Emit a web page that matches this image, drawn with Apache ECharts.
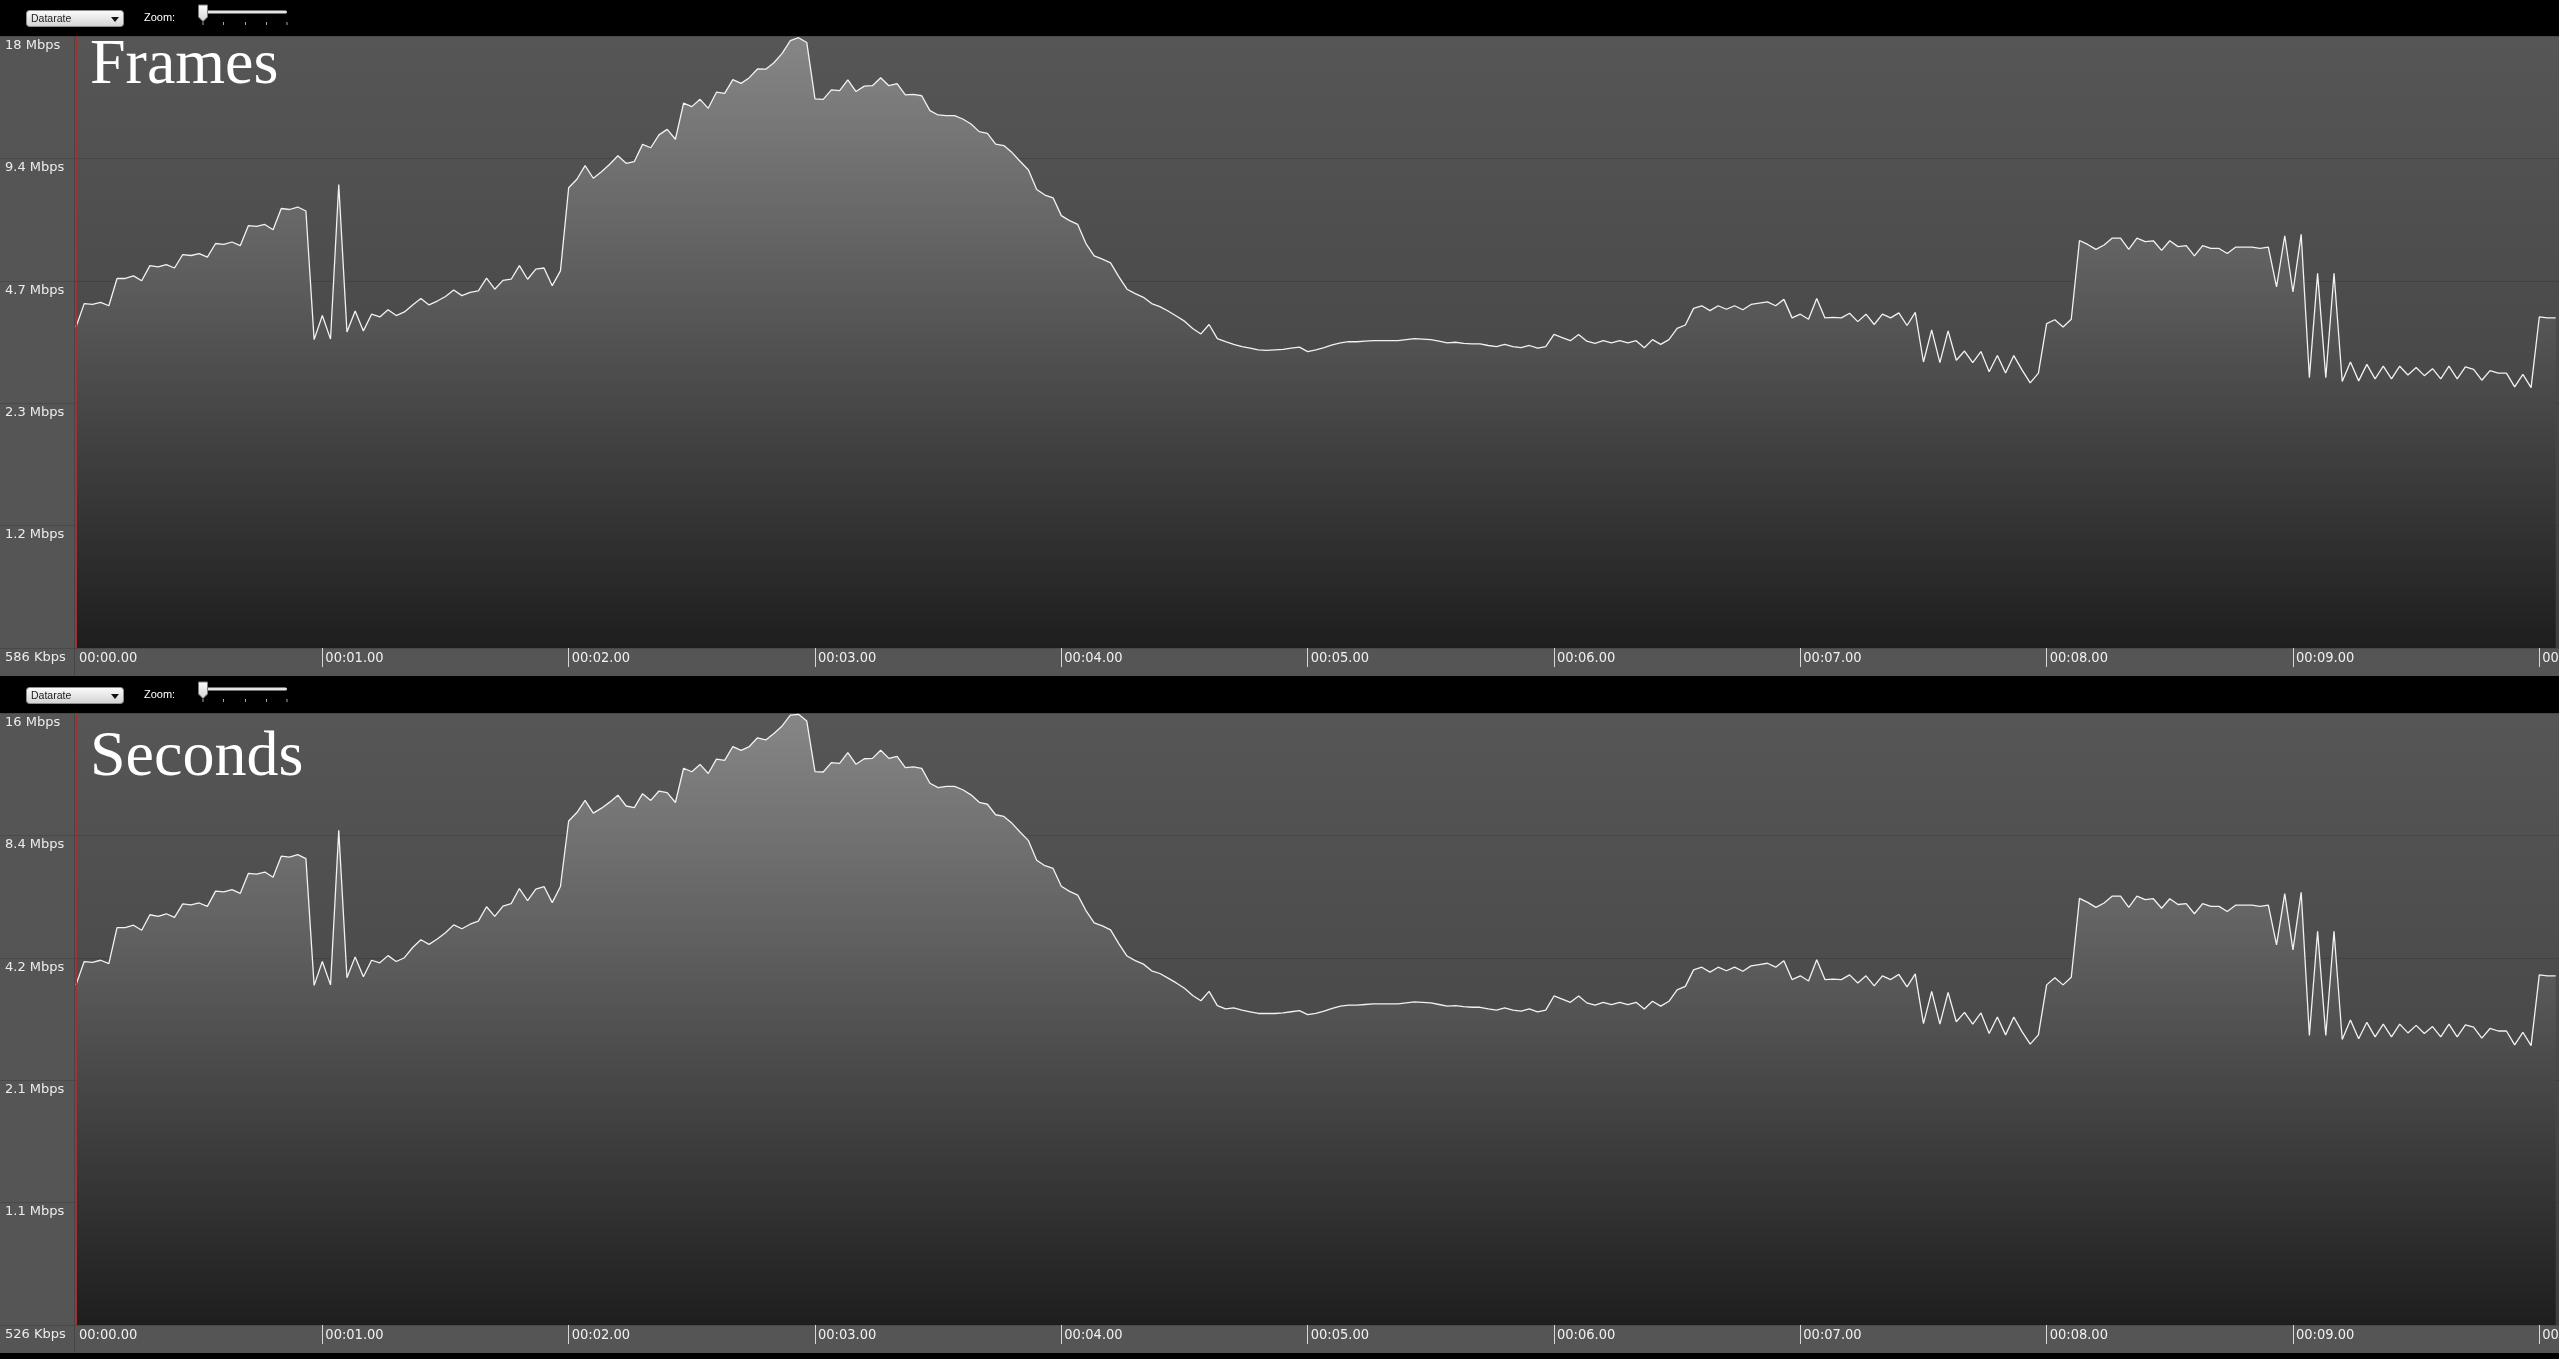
<!DOCTYPE html>
<html>
<head>
<meta charset="utf-8">
<script src="https://cdn.jsdelivr.net/npm/echarts@6/dist/echarts.min.js"></script>
<style>
html,body{margin:0;padding:0;background:#000;overflow:hidden;}
#chart{width:2559px;height:1359px;}
</style>
</head>
<body>
<div id="chart"></div>
<script>
// ---------------- data ----------------
const frameDuration = 1 / 30;               // seconds per sample (30 samples per second)
const timeLabelSeconds = [0, 1, 2, 3, 4, 5, 6, 7, 8, 9, 10];
const timeTickSeconds = [1, 2, 3, 4, 5, 6, 7, 8, 9, 10];

const framesLevelLabels = ['586 Kbps', '1.2 Mbps', '2.3 Mbps', '4.7 Mbps', '9.4 Mbps', '18 Mbps'];
const framesRange = [0.586, 18.752];        // Mbps, bottom and top of the log axis
const secondsLevelLabels = ['526 Kbps', '1.1 Mbps', '2.1 Mbps', '4.2 Mbps', '8.4 Mbps', '16 Mbps'];
const secondsRange = [0.526, 16.832];

// Datarate in Mbps, one value per frame (top panel "Frames")
const framesMbps = [
  3.61, 4.12, 4.10, 4.15, 4.07, 4.75, 4.75, 4.82, 4.69, 5.11,
  5.07, 5.14, 5.04, 5.44, 5.41, 5.47, 5.36, 5.79, 5.76, 5.84,
  5.72, 6.41, 6.38, 6.45, 6.26, 7.06, 7.02, 7.12, 6.96, 3.36,
  3.85, 3.37, 8.09, 3.51, 3.95, 3.53, 3.88, 3.82, 3.98, 3.85,
  3.93, 4.09, 4.24, 4.09, 4.18, 4.29, 4.45, 4.31, 4.39, 4.43,
  4.76, 4.47, 4.70, 4.73, 5.11, 4.73, 5.01, 5.04, 4.56, 4.96,
  7.94, 8.33, 9.00, 8.38, 8.69, 9.07, 9.52, 9.12, 9.21, 10.15,
  9.96, 10.71, 11.05, 10.45, 12.82, 12.57, 13.10, 12.45, 13.64, 13.55,
  14.65, 14.34, 14.81, 15.56, 15.54, 16.12, 17.00, 18.27, 18.57, 18.07,
  13.13, 13.10, 13.82, 13.76, 14.62, 13.69, 14.12, 14.15, 14.81, 14.15,
  14.31, 13.43, 13.48, 13.37, 12.29, 11.99, 11.95, 11.95, 11.72, 11.39,
  10.91, 10.80, 10.17, 10.08, 9.69, 9.21, 8.78, 7.86, 7.62, 7.50,
  6.78, 6.59, 6.45, 5.79, 5.40, 5.30, 5.19, 4.80, 4.47, 4.36,
  4.27, 4.12, 4.05, 3.95, 3.84, 3.73, 3.58, 3.47, 3.66, 3.38,
  3.32, 3.27, 3.23, 3.20, 3.17, 3.16, 3.17, 3.18, 3.20, 3.22,
  3.14, 3.17, 3.21, 3.26, 3.30, 3.32, 3.32, 3.33, 3.34, 3.34,
  3.34, 3.34, 3.36, 3.38, 3.37, 3.36, 3.33, 3.30, 3.31, 3.29,
  3.28, 3.28, 3.25, 3.23, 3.27, 3.23, 3.21, 3.25, 3.20, 3.23,
  3.46, 3.40, 3.34, 3.46, 3.33, 3.29, 3.34, 3.30, 3.34, 3.30,
  3.34, 3.21, 3.36, 3.27, 3.36, 3.58, 3.65, 4.01, 4.07, 3.96,
  4.07, 3.99, 4.07, 3.98, 4.10, 4.13, 4.16, 4.07, 4.22, 3.80,
  3.88, 3.77, 4.24, 3.80, 3.81, 3.80, 3.90, 3.72, 3.88, 3.66,
  3.88, 3.80, 3.91, 3.64, 3.92, 2.96, 3.55, 2.95, 3.53, 2.99,
  3.15, 2.95, 3.14, 2.80, 3.07, 2.78, 3.07, 2.83, 2.63, 2.78,
  3.68, 3.76, 3.61, 3.77, 5.89, 5.76, 5.60, 5.74, 5.97, 5.97,
  5.60, 5.97, 5.85, 5.88, 5.57, 5.88, 5.69, 5.72, 5.40, 5.72,
  5.63, 5.63, 5.47, 5.67, 5.67, 5.67, 5.63, 5.67, 4.53, 6.05,
  4.40, 6.10, 2.71, 4.89, 2.71, 4.89, 2.65, 2.96, 2.66, 2.92,
  2.69, 2.89, 2.69, 2.89, 2.75, 2.87, 2.74, 2.85, 2.69, 2.89,
  2.69, 2.88, 2.84, 2.67, 2.82, 2.78, 2.78, 2.57, 2.76, 2.56,
  3.82, 3.80, 3.80
];

// Datarate in Mbps, one value per frame (bottom panel "Seconds")
const secondsMbps = [
  3.61, 4.12, 4.10, 4.15, 4.07, 4.99, 4.99, 5.06, 4.92, 5.37,
  5.32, 5.40, 5.29, 5.71, 5.68, 5.74, 5.63, 6.14, 6.11, 6.19,
  6.06, 6.79, 6.76, 6.84, 6.64, 7.48, 7.44, 7.55, 7.38, 3.60,
  4.12, 3.61, 8.66, 3.76, 4.23, 3.78, 4.15, 4.09, 4.26, 4.12,
  4.21, 4.46, 4.66, 4.54, 4.68, 4.85, 5.07, 4.96, 5.09, 5.18,
  5.62, 5.32, 5.64, 5.72, 6.23, 5.82, 6.21, 6.30, 5.75, 6.30,
  9.13, 9.58, 10.26, 9.55, 9.82, 10.16, 10.57, 9.94, 9.85, 10.66,
  10.26, 10.82, 10.72, 10.14, 12.31, 12.07, 12.58, 11.95, 12.96, 12.87,
  13.92, 13.62, 13.92, 14.63, 14.45, 14.99, 15.64, 16.63, 16.71, 16.08,
  12.08, 12.05, 12.71, 12.66, 13.45, 12.59, 12.99, 13.02, 13.63, 13.02,
  13.17, 12.36, 12.40, 12.30, 11.31, 11.03, 11.11, 11.11, 10.90, 10.59,
  10.15, 10.04, 9.46, 9.37, 9.01, 8.57, 8.17, 7.31, 7.09, 6.98,
  6.31, 6.13, 6.00, 5.50, 5.13, 5.04, 4.93, 4.56, 4.25, 4.14,
  4.06, 3.91, 3.85, 3.75, 3.65, 3.54, 3.40, 3.30, 3.48, 3.21,
  3.15, 3.17, 3.13, 3.10, 3.07, 3.07, 3.07, 3.08, 3.10, 3.12,
  3.05, 3.07, 3.11, 3.16, 3.20, 3.22, 3.22, 3.23, 3.24, 3.24,
  3.24, 3.24, 3.26, 3.28, 3.27, 3.26, 3.23, 3.20, 3.21, 3.19,
  3.18, 3.18, 3.15, 3.13, 3.17, 3.13, 3.11, 3.15, 3.10, 3.13,
  3.39, 3.33, 3.27, 3.39, 3.26, 3.22, 3.27, 3.23, 3.27, 3.23,
  3.27, 3.15, 3.29, 3.20, 3.29, 3.51, 3.58, 3.93, 3.99, 3.88,
  3.99, 3.91, 3.99, 3.90, 4.02, 4.05, 4.08, 3.99, 4.14, 3.72,
  3.80, 3.69, 4.16, 3.72, 3.73, 3.72, 3.82, 3.65, 3.80, 3.59,
  3.80, 3.72, 3.83, 3.57, 3.84, 2.90, 3.48, 2.89, 3.46, 2.93,
  3.09, 2.89, 3.08, 2.74, 3.01, 2.72, 3.01, 2.77, 2.58, 2.72,
  3.61, 3.76, 3.61, 3.77, 5.89, 5.76, 5.60, 5.74, 5.97, 5.97,
  5.60, 5.97, 5.85, 5.88, 5.57, 5.88, 5.69, 5.72, 5.40, 5.72,
  5.63, 5.63, 5.47, 5.67, 5.67, 5.67, 5.63, 5.67, 4.53, 6.05,
  4.40, 6.10, 2.71, 4.89, 2.71, 4.89, 2.65, 2.96, 2.66, 2.92,
  2.69, 2.89, 2.69, 2.89, 2.75, 2.87, 2.74, 2.85, 2.69, 2.89,
  2.69, 2.88, 2.84, 2.67, 2.82, 2.78, 2.78, 2.57, 2.76, 2.56,
  3.82, 3.80, 3.80
];

// ---------------- layout / style ----------------
const W = 2559;
const PANEL_OFFSET = 677;
const PLOT_LEFT = 76, PLOT_TOP = 36, PLOT_H = 612, STRIP_H = 28;
const TIME_MAX = 10.08;

const chart = echarts.init(document.getElementById('chart'), null, {renderer: 'canvas', width: 2559, height: 1359});

function fmtTime(v) {
  if (Math.abs(v - Math.round(v)) > 1e-6) return '';
  const s = Math.round(v);
  return '00:' + (s < 10 ? '0' + s : '' + s) + '.00';
}

function toolbar(off) {
  const grey = {type: 'linear', x: 0, y: 0, x2: 0, y2: 1,
    colorStops: [{offset: 0, color: '#fdfdfd'}, {offset: 1, color: '#d2d2d2'}]};
  const els = [
    {type: 'rect', z: 100, silent: true, shape: {x: 26.5, y: 10.5 + off, width: 97, height: 16, r: 3},
      style: {fill: grey, stroke: '#8c8c8c', lineWidth: 1}},
    {type: 'text', z: 101, silent: true,
      style: {x: 31, y: 19 + off, text: 'Datarate', fill: '#1c1c1c', font: '10.5px "Liberation Sans", Arial, sans-serif',
        textVerticalAlign: 'middle', verticalAlign: 'middle'}},
    {type: 'polygon', z: 101, silent: true, shape: {points: [[111, 17 + off], [119, 17 + off], [115, 22 + off]]},
      style: {fill: '#111'}},
    {type: 'text', z: 101, silent: true,
      style: {x: 144, y: 18 + off, text: 'Zoom:', fill: '#ffffff', font: '11px "Liberation Sans", Arial, sans-serif',
        textVerticalAlign: 'middle', verticalAlign: 'middle'}},
    {type: 'rect', z: 100, silent: true, shape: {x: 203, y: 10.5 + off, width: 84, height: 3, r: 1.5},
      style: {fill: '#e4e4e4'}}
  ];
  [203, 223.5, 245.5, 266.5, 287].forEach(function (x) {
    els.push({type: 'line', z: 100, silent: true, shape: {x1: x, y1: 22 + off, x2: x, y2: 25 + off},
      style: {stroke: '#a8a8a8', lineWidth: 1}});
  });
  els.push({type: 'polygon', z: 102, silent: true,
    shape: {points: [[198.5, 5 + off], [207.5, 5 + off], [207.5, 17 + off], [203, 21.5 + off], [198.5, 17 + off]]},
    style: {fill: grey, stroke: '#7a7a7a', lineWidth: 1}});
  return els;
}

function panelBack(off) {
  return [
    {type: 'rect', z: -100, silent: true, shape: {x: 0, y: PLOT_TOP + off, width: W, height: PLOT_H + STRIP_H},
      style: {fill: '#555555'}},
    {type: 'line', z: 50, silent: true,
      shape: {x1: PLOT_LEFT - 1.5, y1: PLOT_TOP + off, x2: PLOT_LEFT - 1.5, y2: PLOT_TOP + PLOT_H + STRIP_H + off},
      style: {stroke: '#464646', lineWidth: 1}}
  ];
}

const grids = [0, 1].map(function (p) {
  return {
    left: PLOT_LEFT, right: 0, top: PLOT_TOP + p * PANEL_OFFSET, height: PLOT_H,
    containLabel: false, outerBoundsMode: 'none',
    show: true, borderWidth: 0,
    backgroundColor: {type: 'linear', x: 0, y: 0, x2: 0, y2: 1,
      colorStops: [{offset: 0, color: '#565656'}, {offset: 1, color: '#3e3e3e'}]}
  };
});

const xAxes = [0, 1].map(function (p) {
  return {
    type: 'value', gridIndex: p, min: 0, max: TIME_MAX, interval: 1,
    axisLine: {show: false},
    splitLine: {show: false},
    axisTick: {show: true, inside: false, length: 19, customValues: timeTickSeconds,
      lineStyle: {color: '#d8d8d8', width: 1}},
    axisLabel: {show: true, customValues: timeLabelSeconds, formatter: fmtTime, align: 'left', margin: 3,
      padding: [0, 0, 0, 3], color: '#f0f0f0', fontSize: 14.5,
      fontFamily: '"Liberation Sans Narrow", "DejaVu Sans Condensed", "Liberation Sans", sans-serif'}
  };
});

function levelAxis(p, labels) {
  return {
    type: 'value', gridIndex: p, min: 0, max: 5, interval: 1, position: 'left',
    axisLine: {show: false},
    axisTick: {show: true, inside: false, length: PLOT_LEFT, lineStyle: {color: 'rgba(0,0,0,0.14)', width: 1}},
    splitLine: {show: true, lineStyle: {color: 'rgba(0,0,0,0.14)', width: 1}},
    axisLabel: {show: true, align: 'left', verticalAlign: 'top', margin: PLOT_LEFT - 5,
      padding: [3, 0, 0, 0], color: '#ececec', fontSize: 13,
      fontFamily: '"DejaVu Sans", Verdana, sans-serif',
      formatter: function (v) { return labels[Math.round(v)]; }}
  };
}

function rateAxis(p, range) {
  return {type: 'log', logBase: 2, gridIndex: p, min: range[0], max: range[1], show: false,
    splitLine: {show: false}};
}

const yAxes = [
  rateAxis(0, framesRange), levelAxis(0, framesLevelLabels),
  rateAxis(1, secondsRange), levelAxis(1, secondsLevelLabels)
];

function rateSeries(values, p) {
  return {
    type: 'line', xAxisIndex: p, yAxisIndex: p * 2,
    data: values.map(function (v, i) { return [i * frameDuration, v]; }),
    showSymbol: false, symbol: 'none', smooth: false,
    lineStyle: {color: '#f2f2f2', width: 1.3},
    areaStyle: {origin: 'start', opacity: 1,
      color: {type: 'linear', x: 0, y: 0, x2: 0, y2: 1,
        colorStops: [{offset: 0, color: '#868686'}, {offset: 1, color: '#1e1e1e'}]}},
    markLine: {silent: true, symbol: 'none', animation: false, label: {show: false},
      lineStyle: {color: '#9e3232', width: 1, type: 'solid'}, data: [{xAxis: 0}]},
    animation: false
  };
}

const titleStyle = {color: '#ffffff', fontFamily: '"Liberation Serif", "DejaVu Serif", serif', fontSize: 64, fontWeight: 'normal'};
const option = {
  backgroundColor: '#000000',
  animation: false,
  title: [
    {text: 'Frames', left: 85, top: 29, textStyle: titleStyle},
    {text: 'Seconds', left: 85, top: 29 + PANEL_OFFSET + 15, textStyle: titleStyle}
  ],
  grid: grids,
  xAxis: xAxes,
  yAxis: yAxes,
  series: [rateSeries(framesMbps, 0), rateSeries(secondsMbps, 1)],
  graphic: {elements: [].concat(panelBack(0), panelBack(PANEL_OFFSET), toolbar(0), toolbar(PANEL_OFFSET))}
};
chart.setOption(option);
</script>
</body>
</html>
